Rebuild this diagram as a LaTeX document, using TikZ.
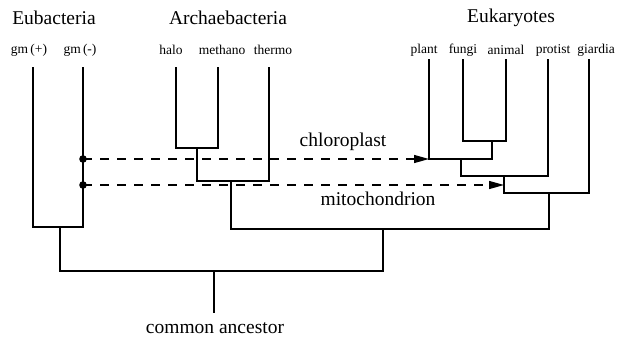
\documentclass[tikz,border=0pt]{standalone}
\usepackage{fontspec}
\setmainfont{Liberation Serif}
\usetikzlibrary{arrows.meta}
\tikzset{
	branch/.style={line width=1.3pt},
	transfer/.style={line width=1.3pt, dash pattern=on 9pt off 8pt, -{Triangle[length=15pt,width=8pt]}},
	taxon/.style={font=\fontsize{13.5}{15}\selectfont, inner sep=0pt},
	kingdom/.style={font=\fontsize{19.5}{22}\selectfont, inner sep=0pt},
	event/.style={font=\fontsize{19.5}{22}\selectfont, inner sep=0pt}
}

\begin{document}
\begin{tikzpicture}[x=1pt, y=-1pt]
	\useasboundingbox (0,0) rectangle (625,338);
	
	% kingdoms
	\node[kingdom] (eub) at (54,18) {Eubacteria};
	\node[kingdom] (arc) at (228,18) {Archaebacteria};
	\node[kingdom] (euk) at (511,18) {Eukaryotes};
	
	% taxa
	\node[taxon] (gmplabel) at (29,50) {gm\,(+)};
	\node[taxon] (gmnlabel) at (80,50) {gm\,(-)};
	\node[taxon] (halolabel) at (171,50) {halo};
	\node[taxon] (methanolabel) at (222,50) {methano};
	\node[taxon] (thermolabel) at (273,50) {thermo};
	\node[taxon] (plantlabel) at (424,50) {plant};
	\node[taxon] (fungilabel) at (463,50) {fungi};
	\node[taxon] (animallabel) at (506,50) {animal};
	\node[taxon] (protistlabel) at (553,50) {protist};
	\node[taxon] (giardialabel) at (596,50) {giardia};
	
	% leaf tips
	\coordinate (gmp) at (33,67);
	\coordinate (gmn) at (83,67);
	\coordinate (halo) at (176,67);
	\coordinate (methano) at (218,67);
	\coordinate (thermo) at (269,67);
	\coordinate (plant) at (429,59);
	\coordinate (fungi) at (463,59);
	\coordinate (animal) at (506,59);
	\coordinate (protist) at (548,59);
	\coordinate (giardia) at (589,59);
	
	% branch points
	\coordinate (eubj) at (60,227);
	\coordinate (hmj) at (197,148);
	\coordinate (arcj) at (231,181);
	\coordinate (faj) at (492,141);
	\coordinate (pfaj) at (461,159);
	\coordinate (ppfj) at (504,176);
	\coordinate (eukj) at (549,193);
	\coordinate (aej) at (383,229);
	\coordinate (root) at (214,271);
	
	\node[event] (anc) at (215,328) {common ancestor};
	
	% tree
	\draw[branch] (gmp) |- (eubj) -| (gmn);
	\draw[branch] (halo) |- (hmj) -| (methano);
	\draw[branch] (hmj) |- (arcj) -| (thermo);
	\draw[branch] (fungi) |- (faj) -| (animal);
	\draw[branch] (plant) |- (pfaj) -| (faj);
	\draw[branch] (pfaj) |- (ppfj) -| (protist);
	\draw[branch] (ppfj) |- (eukj) -| (giardia);
	\draw[branch] (arcj) |- (aej) -| (eukj);
	\draw[branch] (eubj) |- (root) -| (aej);
	\draw[branch] (root) -- ++(0,42);
	
	% transfers
	\coordinate (chldonor) at (83,159);
	\coordinate (mitdonor) at (83,185);
	\coordinate (mittarget) at (504,185);
	\fill (chldonor) circle (3.8pt);
	\fill (mitdonor) circle (3.8pt);
	\draw[transfer] (chldonor) -- (plant |- pfaj);
	\draw[transfer] (mitdonor) -- (mittarget);
	\node[event] (chl) at (343,142) {chloroplast};
	\node[event] (mit) at (378,199) {mitochondrion};
	
\end{tikzpicture}
\end{document}
